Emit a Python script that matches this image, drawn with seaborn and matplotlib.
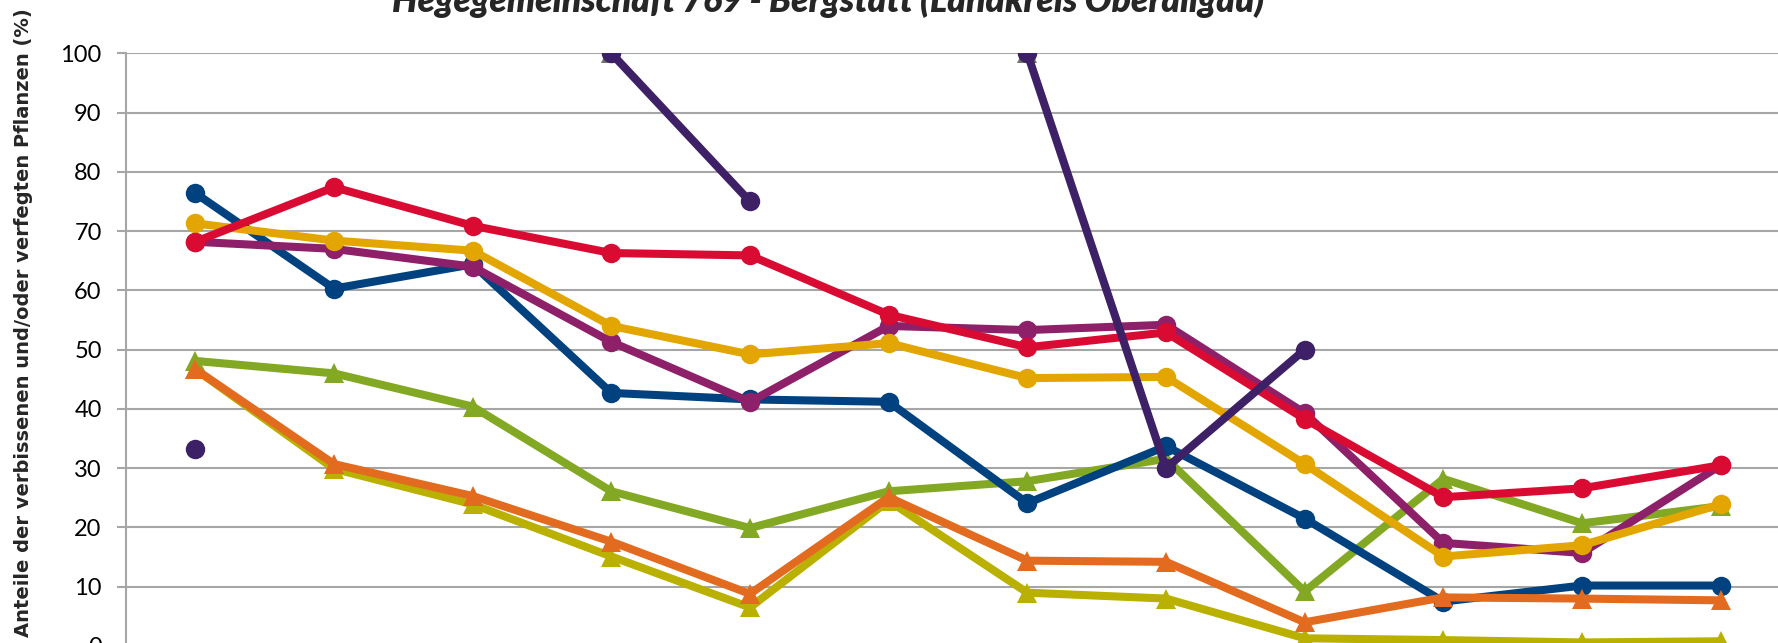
import numpy as np
import pandas as pd
import seaborn as sns
from matplotlib import pyplot as plt

# 12 survey points (no x labels visible in the crop)
points = list(range(12))

blue = [76.4, 60.3, 64.4, 42.7, 41.6, 41.2, 24.1, 33.7, 21.5, 7.5, 10.2, 10.2]
red = [68.2, 77.4, 70.9, 66.3, 65.9, 55.9, 50.4, 52.9, 38.3, 25.1, 26.6, 30.5]
magenta = [68.2, 67.0, 64.0, 51.3, 41.2, 54.0, 53.3, 54.2, 39.3, 17.4, 15.7, 30.5]
gold = [71.3, 68.4, 66.7, 54.0, 49.2, 51.1, 45.2, 45.4, 30.7, 15.1, 17.0, 23.9]
purple = [33.3, np.nan, np.nan, 100.0, 75.0, np.nan, 100.0, 30.0, 50.0, np.nan, np.nan, np.nan]
green = [48.1, 46.0, 40.4, 26.1, 19.9, 26.1, 27.8, 31.6, 9.2, 28.2, 20.7, 23.6]
orange = [46.7, 30.7, 25.3, 17.6, 8.8, 25.1, 14.4, 14.2, 4.0, 8.2, 8.0, 7.7]
olive = [46.7, 29.9, 23.9, 15.1, 6.5, 24.5, 9.0, 8.0, 1.3, 1.0, 0.6, 0.8]
grey = [np.nan, np.nan, np.nan, 100.0, np.nan, np.nan, 100.0, np.nan, 0.3, np.nan, np.nan, np.nan]

y_ticks = list(range(0, 101, 10))

title = "Hegegemeinschaft 769 - Bergstätt (Landkreis Oberallgäu)"
y_label = "Anteile der verbissenen und/oder verfegten Pflanzen (%)"

# drawing order = Excel series order (later ones on top)
series = [
    ("grey", grey, "#6E7763", "^"),
    ("green", green, "#82A824", "^"),
    ("blue", blue, "#00427F", "o"),
    ("olive", olive, "#BAB000", "^"),
    ("orange", orange, "#E36B1F", "^"),
    ("magenta", magenta, "#8E2069", "o"),
    ("gold", gold, "#E3A600", "o"),
    ("red", red, "#D90B33", "o"),
    ("purple", purple, "#3D2066", "o"),
]


def to_frame(values):
    """long table; gaps (NaN) split the line into separate segments"""
    df = pd.DataFrame({"x": points, "y": values})
    df["segment"] = df["y"].isna().cumsum()
    return df.dropna()


sns.set_theme(style="white")
plt.rcParams["font.family"] = ["Lato", "DejaVu Sans"]

fig = plt.figure(figsize=(17.78, 6.43), dpi=100)
ax = fig.add_axes([126 / 1778, -3 / 643, 1664 / 1778, 592.7 / 643])

for name, values, color, marker in series:
    df = to_frame(values)
    sns.lineplot(data=df, x="x", y="y", units="segment", estimator=None,
                 color=color, marker=marker, markersize=14, linewidth=5.8,
                 markeredgewidth=0, ax=ax, legend=False)

ax.set_xlim(-0.5, 11.5)
ax.set_ylim(0, 100)
ax.set_yticks(y_ticks)
ax.set_xticks([])
ax.yaxis.grid(True, color="#A6A6A6", linewidth=1.5)
ax.set_axisbelow(True)
ax.tick_params(axis="y", left=True, length=6.5, width=1.5, color="#A6A6A6",
               labelsize=17, pad=11, labelcolor="black")
for side in ["top", "right"]:
    ax.spines[side].set_visible(False)
for side in ["left", "bottom"]:
    ax.spines[side].set_color("#A6A6A6")
    ax.spines[side].set_linewidth(1.5)

ax.set_xlabel("")
ax.set_ylabel(y_label, fontsize=14, fontweight="bold", family="DejaVu Sans")
ax.yaxis.set_label_coords(-0.056, 0.545)

fig.text(0.466, 0.982, title, ha="center", va="baseline", fontsize=25.5,
         fontweight="heavy", fontstyle="italic")

fig.savefig("out.png", dpi=100)
